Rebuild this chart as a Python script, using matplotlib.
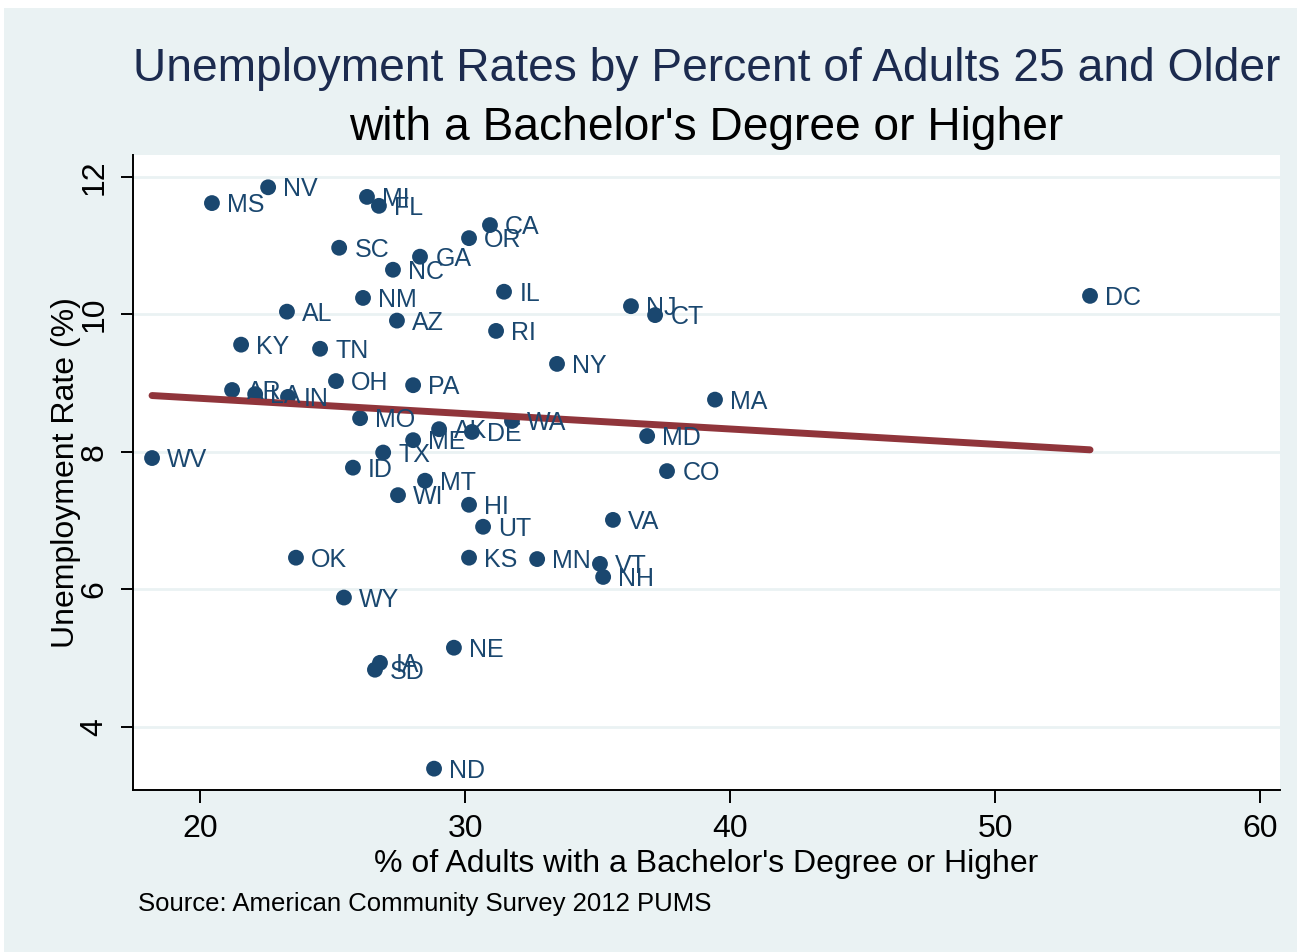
import matplotlib
matplotlib.use("Agg")
import matplotlib.pyplot as plt
import numpy as np

plt.rcParams['font.family'] = ['Liberation Sans', 'DejaVu Sans']

# state, % adults with bachelor's degree, unemployment rate
states = ['NV', 'MS', 'MI', 'FL', 'CA', 'OR', 'SC', 'GA', 'NC', 'IL',
          'NM', 'DC', 'NJ', 'CT', 'AL', 'AZ', 'RI', 'KY', 'TN', 'NY',
          'OH', 'PA', 'AR', 'LA', 'IN', 'MA', 'MO', 'WA', 'AK', 'DE',
          'ME', 'TX', 'ID', 'MT', 'WI', 'MD', 'WV', 'CO', 'HI', 'VA',
          'UT', 'OK', 'KS', 'MN', 'VT', 'NH', 'WY', 'NE', 'IA', 'SD', 'ND']
bach = [22.57, 20.45, 26.30, 26.75, 30.94, 30.15, 25.25, 28.30, 27.28, 31.47,
        26.15, 53.58, 36.26, 37.17, 23.28, 27.43, 31.17, 21.55, 24.53, 33.47,
        25.13, 28.04, 21.21, 22.08, 23.32, 39.43, 26.04, 31.77, 29.02, 30.26,
        28.04, 26.91, 25.77, 28.49, 27.47, 36.87, 18.19, 37.62, 30.15, 35.58,
        30.68, 23.62, 30.15, 32.72, 35.09, 35.21, 25.43, 29.58, 26.79, 26.60, 28.83]
unemp = [11.85, 11.62, 11.71, 11.58, 11.30, 11.11, 10.97, 10.84, 10.65, 10.33,
         10.24, 10.27, 10.12, 9.99, 10.04, 9.91, 9.76, 9.56, 9.50, 9.28,
         9.03, 8.97, 8.90, 8.84, 8.80, 8.76, 8.49, 8.45, 8.33, 8.29,
         8.17, 7.99, 7.77, 7.58, 7.37, 8.23, 7.91, 7.72, 7.23, 7.01,
         6.91, 6.46, 6.46, 6.44, 6.37, 6.18, 5.88, 5.15, 4.93, 4.83, 3.39]

x = np.array(bach)
y = np.array(unemp)

navy = '#1a476f'
maroon = '#90353b'
bg = '#eaf2f3'

fig = plt.figure(figsize=(13.01, 9.52), dpi=100, facecolor='white')
# light blue-gray graph region inside a thin white border
fig.patches.append(plt.Rectangle((0.003, 0.0), 0.994, 0.992, transform=fig.transFigure,
                                 facecolor=bg, edgecolor='none', zorder=-1))

ax = fig.add_axes([0.1022, 0.1702, 0.8817, 0.667])
ax.set_facecolor('white')
ax.set_xlim(17.47, 60.75)
ax.set_ylim(3.08, 12.32)

ax.set_yticks([4, 6, 8, 10, 12])
ax.set_xticks([20, 30, 40, 50, 60])
ax.grid(axis='y', color=bg, linewidth=2)
ax.set_axisbelow(True)
for s in ['top', 'right']:
    ax.spines[s].set_visible(False)
for s in ['left', 'bottom']:
    ax.spines[s].set_color('black')
    ax.spines[s].set_linewidth(1.4)
ax.tick_params(axis='both', length=9, width=1.4, pad=8, labelsize=23, colors='black')
for lab in ax.get_yticklabels():
    lab.set_rotation(90)
    lab.set_va('center')

ax.scatter(x, y, s=130, color=navy, zorder=3, edgecolors='none')
for name, xi, yi in zip(states, x, y):
    ax.annotate(name, (xi, yi), xytext=(11, -1.5), textcoords='offset points',
                ha='left', va='center', fontsize=18, color=navy, zorder=4)

# linear fit
b, a = np.polyfit(x, y, 1)
xf = np.array([x.min(), x.max()])
ax.plot(xf, a + b * xf, color=maroon, linewidth=5, solid_capstyle='round', zorder=3)

ax.set_xlabel("% of Adults with a Bachelor's Degree or Higher", fontsize=23, labelpad=4)
ax.set_ylabel("Unemployment Rate (%)", fontsize=23, labelpad=-1)

fig.text(0.543, 0.928, "Unemployment Rates by Percent of Adults 25 and Older",
         ha='center', va='center', fontsize=33.2, color='#1c2b4f')
fig.text(0.543, 0.866, "with a Bachelor's Degree or Higher",
         ha='center', va='center', fontsize=33.2, color='black')
fig.text(0.106, 0.05, "Source: American Community Survey 2012 PUMS",
         ha='left', va='center', fontsize=18.5, color='black')

fig.savefig('out.png', dpi=100, facecolor=fig.get_facecolor())
